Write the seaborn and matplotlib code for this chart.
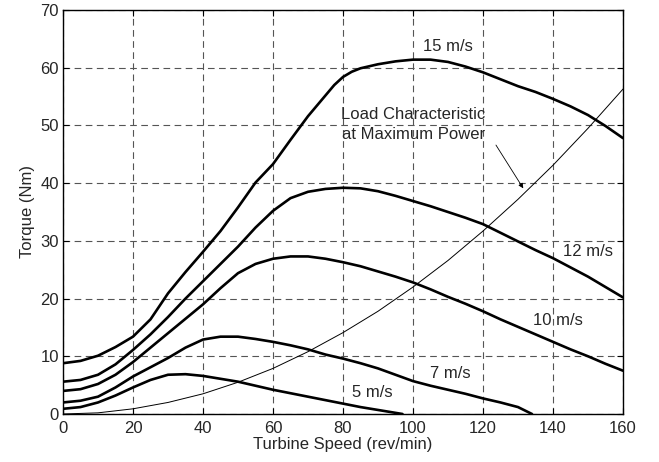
import numpy as np
import pandas as pd
import matplotlib
matplotlib.use("Agg")
import matplotlib.pyplot as plt
import seaborn as sns

# ---- data ----
speed_15 = [0, 5, 10, 15, 20, 25, 30, 35, 40, 45, 50, 55, 60, 65, 70, 75, 77.5, 80, 82.5, 85, 90, 95, 100, 105, 110, 115, 120, 125, 130, 135, 140, 145, 150, 155, 160]
torque_15 = [8.8, 9.2, 10.1, 11.6, 13.4, 16.4, 20.9, 24.6, 28.1, 31.7, 35.8, 40.1, 43.3, 47.5, 51.6, 55.2, 57.0, 58.4, 59.3, 59.9, 60.6, 61.1, 61.4, 61.4, 61.0, 60.2, 59.2, 58.0, 56.8, 55.8, 54.6, 53.3, 51.8, 49.9, 47.8]

speed_12 = [0, 5, 10, 15, 20, 25, 30, 35, 40, 45, 50, 55, 60, 65, 70, 75, 80, 85, 90, 95, 100, 105, 110, 115, 120, 125, 130, 135, 140, 145, 150, 155, 160]
torque_12 = [5.6, 5.9, 6.8, 8.6, 11.1, 13.8, 16.8, 20.0, 23.0, 26.0, 29.0, 32.3, 35.2, 37.4, 38.5, 39.0, 39.2, 39.1, 38.6, 37.8, 36.9, 36.0, 35.0, 34.0, 32.9, 31.4, 29.9, 28.4, 27.0, 25.4, 23.8, 22.0, 20.2]

speed_10 = [0, 5, 10, 15, 20, 25, 30, 35, 40, 45, 50, 55, 60, 65, 70, 75, 80, 85, 90, 95, 100, 105, 110, 115, 120, 125, 130, 135, 140, 145, 150, 155, 160]
torque_10 = [4.0, 4.3, 5.2, 6.8, 9.0, 11.5, 14.0, 16.5, 19.0, 21.8, 24.4, 26.0, 26.9, 27.3, 27.3, 26.9, 26.3, 25.6, 24.7, 23.8, 22.8, 21.6, 20.3, 19.1, 17.8, 16.4, 15.1, 13.8, 12.5, 11.2, 10.0, 8.7, 7.5]

speed_7 = [0, 5, 10, 15, 20, 25, 30, 35, 40, 45, 50, 55, 60, 65, 70, 75, 80, 85, 90, 95, 100, 105, 110, 115, 120, 125, 130, 134]
torque_7 = [2.0, 2.3, 3.0, 4.6, 6.5, 8.1, 9.7, 11.5, 12.9, 13.4, 13.4, 13.0, 12.5, 11.9, 11.2, 10.3, 9.6, 8.8, 7.9, 6.8, 5.7, 4.9, 4.2, 3.5, 2.7, 2.0, 1.2, 0.0]

speed_5 = [0, 5, 10, 15, 20, 25, 30, 35, 40, 45, 50, 55, 60, 65, 70, 75, 80, 85, 90, 97]
torque_5 = [0.9, 1.2, 2.0, 3.2, 4.6, 5.9, 6.8, 6.9, 6.6, 6.1, 5.6, 4.9, 4.2, 3.6, 3.0, 2.4, 1.8, 1.2, 0.7, 0.0]

speed_load = [0, 10, 20, 30, 40, 50, 60, 70, 80, 90, 100, 110, 120, 130, 140, 150, 160]
torque_load = [0.0, 0.2, 0.9, 2.0, 3.5, 5.5, 7.9, 10.8, 14.1, 17.8, 22.0, 26.6, 31.7, 37.2, 43.1, 49.5, 56.3]

curve_labels = ["15 m/s", "12 m/s", "10 m/s", "7 m/s", "5 m/s"]
x_ticks = [0, 20, 40, 60, 80, 100, 120, 140, 160]
y_ticks = [0, 10, 20, 30, 40, 50, 60, 70]

sns.set_theme(style="white")
plt.rcParams["font.family"] = ["Liberation Sans", "DejaVu Sans"]

fig = plt.figure(figsize=(6.59, 4.62), dpi=100)
ax = fig.add_axes([63 / 659, 48 / 462, 560 / 659, 404 / 462])

curves = [(speed_15, torque_15), (speed_12, torque_12), (speed_10, torque_10),
          (speed_7, torque_7), (speed_5, torque_5)]
for (sx, ty), lab in zip(curves, curve_labels):
    df = pd.DataFrame({"speed": sx, "torque": ty})
    sns.lineplot(data=df, x="speed", y="torque", ax=ax, color="black",
                 linewidth=1.9, estimator=None, sort=False, zorder=3)

df_load = pd.DataFrame({"speed": speed_load, "torque": torque_load})
sns.lineplot(data=df_load, x="speed", y="torque", ax=ax, color="black",
             linewidth=0.7, estimator=None, sort=False, zorder=3)

fs = 12
ax.set_xlim(0, 160)
ax.set_ylim(0, 70)
ax.set_xticks(x_ticks)
ax.set_yticks(y_ticks)
ax.set_xticklabels([str(v) for v in x_ticks], fontsize=fs)
ax.set_yticklabels([str(v) for v in y_ticks], fontsize=fs)
ax.tick_params(direction="in", length=4, width=0.8, color="black",
               top=True, right=True, bottom=True, left=True, pad=3)
ax.tick_params(axis="x", pad=5)
ax.grid(True, color="#555555", linestyle=(0, (6, 4)), linewidth=0.8)
for sp in ax.spines.values():
    sp.set_color("black")
    sp.set_linewidth(1.0)

ax.set_xlabel("Turbine Speed (rev/min)", fontsize=fs, labelpad=1)
ax.set_ylabel("Torque (Nm)", fontsize=fs, labelpad=4)

ax.text(109.9, 63.6, "15 m/s", fontsize=fs, ha="center", va="center")
ax.text(149.9, 28.1, "12 m/s", fontsize=fs, ha="center", va="center")
ax.text(141.3, 16.2, "10 m/s", fontsize=fs, ha="center", va="center")
ax.text(110.6, 7.0, "7 m/s", fontsize=fs, ha="center", va="center")
ax.text(88.5, 3.75, "5 m/s", fontsize=fs, ha="center", va="center")
ax.text(100.1, 50.2, "Load Characteristic\nat Maximum Power", fontsize=fs,
        ha="center", va="center", multialignment="center", linespacing=1.4)
ax.annotate("", xy=(131.5, 39.1), xytext=(123.7, 46.6),
            arrowprops=dict(arrowstyle="-|>", color="black", lw=0.6,
                            mutation_scale=7, shrinkA=0, shrinkB=0))

fig.savefig("out.png", dpi=100)
